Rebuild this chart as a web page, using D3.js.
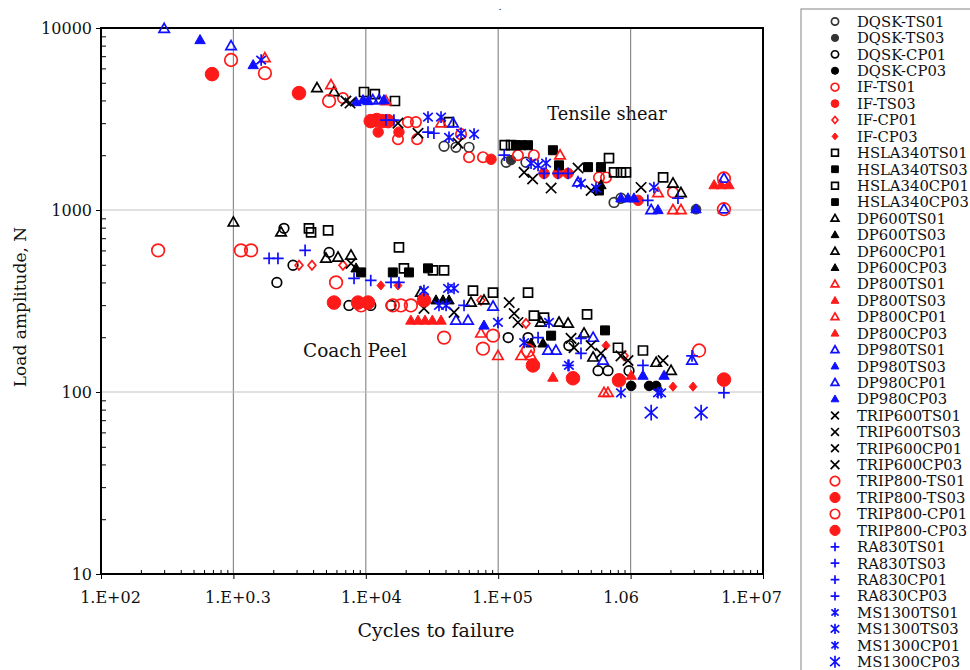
<!DOCTYPE html>
<html>
<head>
<meta charset="utf-8">
<script src="https://cdn.jsdelivr.net/npm/d3@7"></script>
<style>
  body { margin: 0; background: #fff; }
  svg text { font-family: "DejaVu Serif", serif; fill: #111; }
</style>
</head>
<body>
<svg id="chart" width="970" height="670"></svg>
<script>
// ---- axis ticks ----
const xTickValues = [1e2, 1e3, 1e4, 1e5, 1e6, 1e7];
const xTickLabels = ["1.E+02", "1.E+0.3", "1.E+04", "1.E+05", "1.06", "1.E+07"];
const yTickValues = [10, 100, 1000, 10000];
const yTickLabels = ["10", "100", "1000", "10000"];

// ---- series data: [cycles to failure, load amplitude N] ----
const dqskTS01 = [[39000,2240],[48000,2210],[60200,2210],[115000,1830],[162000,1830],[750000,1100],[846000,1160]];
const dqskTS03 = [[3.12e6,1010],[125000,1880]];
const dqskCP01 = [[2410,793],[2820,497],[2130,400],[5280,585],[7460,299],[10900,299],[15500,299],[119000,199],[168000,199],[342000,180],[568000,131],[675000,131],[973000,131]];
const dqskCP03 = [[1.01e6,108],[1.38e6,108],[1.56e6,108]];
const ifTS01 = [[6720,4120],[17500,2450],[24400,2450],[20800,3040],[23900,3040],[52400,2610],[60200,1950],[76700,1950],[141000,2000],[186000,2000],[577000,1510],[652000,1510],[2.09e6,1250]];
const ifTS03 = [[88300,1900],[12400,2680],[17800,2680],[1.14e6,1130],[222000,1590],[283000,1590],[337000,1590]];
const ifCP01 = [[3130,497],[3920,497],[6720,497],[74100,319],[162000,238],[892000,158]];
const ifCP03 = [[13000,385],[17500,385],[652000,180],[2.09e6,107],[2.96e6,107]];
const hsla340TS01 = [[9690,4450],[11700,4330],[16600,3970],[42500,3040],[687000,1930],[1.76e6,1510],[750000,1610],[846000,1610],[923000,1610],[125000,2270],[112000,2270]];
const hsla340TS03 = [[136000,2270],[168000,2270],[259000,2130],[288000,1760],[477000,1720],[597000,1720],[577000,1280],[150000,2270]];
const hsla340CP01 = [[3720,793],[3860,754],[5190,773],[17800,624],[19400,478],[32200,466],[39000,466],[64500,361],[91400,352],[168000,352],[186000,263],[222000,256],[469000,267],[803000,175],[1.24e6,169]];
const hsla340CP03 = [[9210,454],[16000,454],[21200,454],[29500,478],[251000,204],[641000,218]];
const dp600TS01 = [[4280,4680],[5750,4450],[2.09e6,1400],[2.40e6,1240]];
const dp600TS03 = [[597000,1370]];
const dp600CP01 = [[1000,855],[2290,754],[5000,542],[6170,549],[7730,563],[26100,352],[62300,310],[78100,319],[210000,241],[288000,241],[337000,238],[445000,210],[521000,155],[1.56e6,145],[2.02e6,131]];
const dp600CP03 = [[8440,478],[33900,319],[38300,319],[42500,319],[177000,185],[218000,185]];
const dp800TS01 = [[1730,6840],[5460,4860],[14200,3970],[37000,3000],[293000,2000],[1.61e6,1240],[2.09e6,1000],[2.40e6,1000]];
const dp800TS03 = [[4.27e6,1370],[4.82e6,1370],[5.53e6,1370]];
const dp800CP01 = [[74100,210],[99600,158],[149000,158],[177000,158],[630000,99],[675000,99]];
const dp800CP03 = [[21900,247],[24800,247],[28000,247],[31800,247],[37000,247],[259000,120],[1.01e6,123]];
const dp980TS01 = [[300,9900],[960,7960],[11300,4020],[12600,4020],[45600,3000],[401000,1420],[1.43e6,1000],[5.07e6,1490],[5.07e6,1010]];
const dp980TS03 = [[560,8590],[1410,6260],[8440,3920],[9530,4020],[10400,3970],[13700,4020],[846000,1160],[956000,1160],[1.06e6,1160],[1.61e6,1000],[3.12e6,1010]];
const dp980CP01 = [[48000,247],[59200,247],[91400,295],[238000,169],[273000,169],[521000,199],[619000,149],[2.91e6,149]];
const dp980CP03 = [[78100,232],[1.24e6,123],[1.79e6,123]];
const trip600TS01 = [[7080,3970],[7600,3870],[17500,3000],[24800,2640],[49700,2330],[157000,1610],[251000,1320],[401000,1700],[503000,1280],[1.20e6,1330],[182000,1480]];
const trip600TS03 = [];
const trip600CP01 = [[7730,509],[27500,288],[46400,274],[121000,310],[132000,270],[141000,241],[355000,197],[374000,175],[503000,180],[597000,163],[846000,158],[956000,149],[1.76e6,149]];
const trip600CP03 = [];
const trip800TS01 = [[960,6670],[1730,5650],[5280,3970],[5.07e6,1490],[5.07e6,1010]];
const trip800TS03 = [[690,5580],[3130,4390],[10900,3080],[12100,3120],[13300,3080],[14700,3080]];
const trip800CP01 = [[270,600],[1140,600],[1360,600],[5960,400],[9210,299],[16000,299],[18400,299],[21900,299],[39000,199],[76700,173],[91400,204],[168000,169],[3.29e6,169]];
const trip800CP03 = [[5750,310],[8740,310],[10400,310],[27500,319],[183000,140],[367000,119],[817000,116],[5.07e6,117]];
const ra830TS01 = [[14200,3120],[16300,3120],[29500,2680],[32700,2640],[111000,2000],[222000,1590],[283000,1590],[337000,1590],[1.35e6,1130],[2.28e6,1160]];
const ra830TS03 = [];
const ra830CP01 = [[1860,542],[2170,542],[3480,600],[8150,421],[10900,410],[15500,400],[17800,400],[55200,299],[200000,199],[422000,197],[422000,163],[337000,140],[1.24e6,140],[2.91e6,158],[5.07e6,99]];
const ra830CP03 = [];
const ms1300TS01 = [[1620,6670],[29500,3240],[37000,3240],[42500,2510],[52400,2640],[65700,2610],[177000,1810],[200000,1760],[230000,1810],[422000,1400],[548000,1320],[1.50e6,1330]];
const ms1300TS03 = [];
const ms1300CP01 = [[27500,361],[41800,371],[46400,371],[35700,299],[40400,299],[99600,241],[242000,241],[157000,187],[342000,140],[846000,99],[1.61e6,99],[1.70e6,99]];
const ms1300CP03 = [[1.43e6,77],[3.41e6,77]];

// ---- series table: name, data, marker style ----
const RED = "#ff1a1a", BLUE = "#1010ff", BLACK = "#000", DARK = "#333";
const series = [
  { name: "DQSK-TS01",    data: dqskTS01,    shape: "circle",   color: DARK,  fill: false, size: 4.8 },
  { name: "DQSK-TS03",    data: dqskTS03,    shape: "circle",   color: DARK,  fill: true,  size: 4.8 },
  { name: "DQSK-CP01",    data: dqskCP01,    shape: "circle",   color: BLACK, fill: false, size: 4.8 },
  { name: "DQSK-CP03",    data: dqskCP03,    shape: "circle",   color: BLACK, fill: true,  size: 4.8 },
  { name: "IF-TS01",      data: ifTS01,      shape: "circle",   color: RED,   fill: false, size: 5.2 },
  { name: "IF-TS03",      data: ifTS03,      shape: "circle",   color: RED,   fill: true,  size: 5.2 },
  { name: "IF-CP01",      data: ifCP01,      shape: "diamond",  color: RED,   fill: false, size: 4.6 },
  { name: "IF-CP03",      data: ifCP03,      shape: "diamond",  color: RED,   fill: true,  size: 4.6 },
  { name: "HSLA340TS01",  data: hsla340TS01, shape: "square",   color: BLACK, fill: false, size: 4.5 },
  { name: "HSLA340TS03",  data: hsla340TS03, shape: "square",   color: BLACK, fill: true,  size: 4.5 },
  { name: "HSLA340CP01",  data: hsla340CP01, shape: "square",   color: BLACK, fill: false, size: 4.5 },
  { name: "HSLA340CP03",  data: hsla340CP03, shape: "square",   color: BLACK, fill: true,  size: 4.5 },
  { name: "DP600TS01",    data: dp600TS01,   shape: "triangle", color: BLACK, fill: false, size: 5.2 },
  { name: "DP600TS03",    data: dp600TS03,   shape: "triangle", color: BLACK, fill: true,  size: 5.2 },
  { name: "DP600CP01",    data: dp600CP01,   shape: "triangle", color: BLACK, fill: false, size: 5.2 },
  { name: "DP600CP03",    data: dp600CP03,   shape: "triangle", color: BLACK, fill: true,  size: 5.2 },
  { name: "DP800TS01",    data: dp800TS01,   shape: "triangle", color: RED,   fill: false, size: 5.2 },
  { name: "DP800TS03",    data: dp800TS03,   shape: "triangle", color: RED,   fill: true,  size: 5.2 },
  { name: "DP800CP01",    data: dp800CP01,   shape: "triangle", color: RED,   fill: false, size: 5.2 },
  { name: "DP800CP03",    data: dp800CP03,   shape: "triangle", color: RED,   fill: true,  size: 5.2 },
  { name: "DP980TS01",    data: dp980TS01,   shape: "triangle", color: BLUE,  fill: false, size: 5.2 },
  { name: "DP980TS03",    data: dp980TS03,   shape: "triangle", color: BLUE,  fill: true,  size: 5.2 },
  { name: "DP980CP01",    data: dp980CP01,   shape: "triangle", color: BLUE,  fill: false, size: 5.2 },
  { name: "DP980CP03",    data: dp980CP03,   shape: "triangle", color: BLUE,  fill: true,  size: 5.2 },
  { name: "TRIP600TS01",  data: trip600TS01, shape: "x",        color: BLACK, fill: false, size: 5.2 },
  { name: "TRIP600TS03",  data: trip600TS03, shape: "x",        color: BLACK, fill: false, size: 5.2 },
  { name: "TRIP600CP01",  data: trip600CP01, shape: "x",        color: BLACK, fill: false, size: 5.2 },
  { name: "TRIP600CP03",  data: trip600CP03, shape: "x",        color: BLACK, fill: false, size: 5.8 },
  { name: "TRIP800-TS01", data: trip800TS01, shape: "circle",   color: RED,   fill: false, size: 6.3 },
  { name: "TRIP800-TS03", data: trip800TS03, shape: "circle",   color: RED,   fill: true,  size: 6.8 },
  { name: "TRIP800-CP01", data: trip800CP01, shape: "circle",   color: RED,   fill: false, size: 6.3 },
  { name: "TRIP800-CP03", data: trip800CP03, shape: "circle",   color: RED,   fill: true,  size: 6.8 },
  { name: "RA830TS01",    data: ra830TS01,   shape: "plus",     color: BLUE,  fill: false, size: 5.8 },
  { name: "RA830TS03",    data: ra830TS03,   shape: "plus",     color: BLUE,  fill: false, size: 5.8 },
  { name: "RA830CP01",    data: ra830CP01,   shape: "plus",     color: BLUE,  fill: false, size: 5.8 },
  { name: "RA830CP03",    data: ra830CP03,   shape: "plus",     color: BLUE,  fill: false, size: 5.8 },
  { name: "MS1300TS01",   data: ms1300TS01,  shape: "asterisk", color: BLUE,  fill: false, size: 5.3 },
  { name: "MS1300TS03",   data: ms1300TS03,  shape: "asterisk", color: BLUE,  fill: false, size: 6.3 },
  { name: "MS1300CP01",   data: ms1300CP01,  shape: "asterisk", color: BLUE,  fill: false, size: 5.3 },
  { name: "MS1300CP03",   data: ms1300CP03,  shape: "asterisk", color: BLUE,  fill: false, size: 7.2 }
];

// ---- layout ----
const svg = d3.select("#chart");
const plot = { left: 101, right: 763, top: 28, bottom: 574 };
// horizontal nudges applied to the bottom tick labels
const xLabelNudge = [9, 4, 5, 4, -10, -12];

const x = d3.scaleLog().domain([1e2, 1e7]).range([plot.left, plot.right]);
const y = d3.scaleLog().domain([10, 1e4]).range([plot.bottom, plot.top]);

// minor tick positions (2..9 within each decade)
const minorX = [], minorY = [];
for (let e = 2; e < 7; e++) for (let m = 2; m <= 9; m++) minorX.push(m * Math.pow(10, e));
for (let e = 1; e < 4; e++) for (let m = 2; m <= 9; m++) minorY.push(m * Math.pow(10, e));

// grid lines
svg.append("g").selectAll("line").data(xTickValues.slice(1, -1)).join("line")
  .attr("x1", d => x(d)).attr("x2", d => x(d))
  .attr("y1", plot.top).attr("y2", plot.bottom)
  .attr("stroke", "#8c8c8c").attr("stroke-width", 1.2);
svg.append("g").selectAll("line").data(yTickValues.slice(1, -1)).join("line")
  .attr("x1", plot.left).attr("x2", plot.right)
  .attr("y1", d => y(d)).attr("y2", d => y(d))
  .attr("stroke", "#c4c4c4").attr("stroke-width", 1.2);

// bottom axis: major ticks outward with labels, minor ticks inward
const xAxis = svg.append("g").attr("transform", `translate(0,${plot.bottom})`)
  .call(d3.axisBottom(x).tickValues(xTickValues)
    .tickFormat((d, i) => xTickLabels[i]).tickSize(5).tickPadding(13));
xAxis.selectAll(".tick text").attr("dx", (d, i) => xLabelNudge[i]);
svg.append("g").attr("transform", `translate(0,${plot.bottom})`)
  .call(d3.axisBottom(x).tickValues(minorX).tickFormat("").tickSize(-4))
  .call(g => g.select(".domain").remove());

const yAxis = svg.append("g").attr("transform", `translate(${plot.left},0)`)
  .call(d3.axisLeft(y).tickValues(yTickValues)
    .tickFormat((d, i) => yTickLabels[i]).tickSize(5).tickPadding(4));
svg.append("g").attr("transform", `translate(${plot.left},0)`)
  .call(d3.axisLeft(y).tickValues(minorY).tickFormat("").tickSize(-5))
  .call(g => g.select(".domain").remove());

[xAxis, yAxis].forEach(g => {
  g.select(".domain").remove();
  g.selectAll("text").style("font-family", '"DejaVu Serif", serif')
    .style("font-size", "16px").attr("fill", "#111");
});
svg.selectAll(".tick line").attr("stroke", "#000").attr("stroke-width", 1);

// plot frame
svg.append("rect")
  .attr("x", plot.left).attr("y", plot.top)
  .attr("width", plot.right - plot.left).attr("height", plot.bottom - plot.top)
  .attr("fill", "none").attr("stroke", "#000").attr("stroke-width", 2);

// axis titles and group labels
svg.append("text").attr("x", 436).attr("y", 637)
  .attr("text-anchor", "middle").style("font-size", "19px").text("Cycles to failure");
svg.append("text").attr("transform", "translate(26,307) rotate(-90)")
  .attr("text-anchor", "middle").style("font-size", "17px").text("Load amplitude, N");
svg.append("text").attr("x", 607).attr("y", 120)
  .attr("text-anchor", "middle").style("font-size", "17.8px").text("Tensile shear");
svg.append("text").attr("x", 355).attr("y", 357)
  .attr("text-anchor", "middle").style("font-size", "18.5px").text("Coach Peel");
svg.append("text").attr("x", 500).attr("y", 10)
  .attr("text-anchor", "middle").style("font-size", "10px").text(".");

// ---- marker shapes ----
function markerPath(shape, s) {
  switch (shape) {
    case "circle": { const p = d3.path(); p.arc(0, 0, s, 0, 2 * Math.PI); p.closePath(); return p.toString(); }
    case "square": return `M${-s},${-s}H${s}V${s}H${-s}Z`;
    case "triangle": return `M0,${-s * 1.05}L${s},${s * 0.7}L${-s},${s * 0.7}Z`;
    case "diamond": return `M0,${-s}L${s * 0.85},0L0,${s}L${-s * 0.85},0Z`;
    case "x": return `M${-s},${-s}L${s},${s}M${-s},${s}L${s},${-s}`;
    case "plus": return `M${-s},0H${s}M0,${-s}V${s}`;
    case "asterisk": return `M${-s * 0.9},${-s * 0.8}L${s * 0.9},${s * 0.8}M${-s * 0.9},${s * 0.8}L${s * 0.9},${-s * 0.8}M0,${-s * 1.1}V${s * 1.1}`;
  }
}
function styleMarker(sel, sr) {
  sel.attr("fill", sr.fill ? sr.color : "none")
    .attr("stroke", sr.color)
    .attr("stroke-width", sr.fill ? 1 : 1.7);
}

// ---- data markers ----
const marks = svg.append("g");
series.forEach(sr => {
  marks.append("g").selectAll("path").data(sr.data).join("path")
    .attr("d", markerPath(sr.shape, sr.size))
    .attr("transform", d => `translate(${x(d[0])},${y(d[1])})`)
    .call(styleMarker, sr);
});

// ---- legend ----
const legend = svg.append("g");
legend.append("rect").attr("x", 801).attr("y", 9).attr("width", 200).attr("height", 700)
  .attr("fill", "#fff").attr("stroke", "#999").attr("stroke-width", 1.2);
const rowY = d3.scaleLinear().domain([0, series.length - 1]).range([21.5, 661.7]);
series.forEach((sr, i) => {
  const row = legend.append("g").attr("transform", `translate(0,${rowY(i)})`);
  row.append("path")
    .attr("d", markerPath(sr.shape, sr.size * 0.75))
    .attr("transform", "translate(835,0)")
    .call(styleMarker, sr);
  row.append("text").attr("x", 857).attr("y", 0).attr("dy", "0.36em")
    .style("font-size", "14.8px").text(sr.name);
});
</script>
</body>
</html>
